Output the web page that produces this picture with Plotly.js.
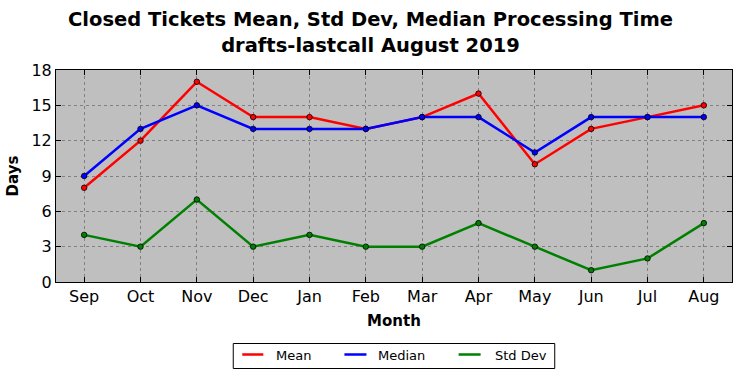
<!DOCTYPE html>
<html>
<head>
<meta charset="utf-8">
<script src="https://cdn.plot.ly/plotly-3.0.1.min.js"></script>
<style>html,body{margin:0;padding:0;background:#fff;}#chart{width:741px;height:378px;}</style>
</head>
<body>
<div id="chart"></div>
<script>
const months = ["Sep","Oct","Nov","Dec","Jan","Feb","Mar","Apr","May","Jun","Jul","Aug"];
const meanVals = [8,12,17,14,14,13,14,16,10,13,14,15];
const medianVals = [9,13,15,13,13,13,14,14,11,14,14,14];
const stdVals = [4,3,7,3,4,3,3,5,3,1,2,5];
const yTicks = [0,3,6,9,12,15,18];
const seriesNames = ["Mean","Median","Std Dev"];
const seriesColors = ["#ff0000","#0000ff","#008000"];

function series(name, vals, color){
  return {
    x: months.map((m,i)=>i), y: vals, name: name, type: "scatter", mode: "lines+markers",
    showlegend: false,
    line: {color: color, width: 2.5},
    marker: {color: color, size: 5.5, line: {color: "#000", width: 0.8}}
  };
}
const data = [series(seriesNames[0], meanVals, seriesColors[0]), series(seriesNames[1], medianVals, seriesColors[1]), series(seriesNames[2], stdVals, seriesColors[2])];

// custom legend (matplotlib-like)
const W = 675, H = 212, L = 56, T = 70;
const px = v => (v - L) / W;
const py = v => (T + H - v) / H;
const legLine = [[242,263,276],[344,366,378],[458,480,494]];
const shapes = [{type:"rect", xref:"paper", yref:"paper", x0:px(233), x1:px(554), y0:py(343.5), y1:py(368.5), line:{color:"#000", width:1}, fillcolor:"#fff"}];
const annotations = [];
legLine.forEach((p,i)=>{
  shapes.push({type:"line", xref:"paper", yref:"paper", x0:px(p[0]), x1:px(p[1]), y0:py(354.5), y1:py(354.5), line:{color:seriesColors[i], width:2.5}});
  annotations.push({xref:"paper", yref:"paper", x:px(p[2]-2), y:py(355), xanchor:"left", yanchor:"middle", text:seriesNames[i], showarrow:false, font:{size:13, color:"#000"}});
});

const font = "DejaVu Sans, sans-serif";
const layout = {
  width: 741, height: 378,
  margin: {l: 56, r: 9, t: 70, b: 96},
  paper_bgcolor: "#ffffff", plot_bgcolor: "#bfbfbf",
  font: {family: font, color: "#000"},
  title: {text: "<b>Closed Tickets Mean, Std Dev, Median Processing Time<br>drafts-lastcall August 2019</b>", font: {size: 19.5, family: font}, x: 0.5, xanchor: "center", yref: "container", y: 0.93, yanchor: "middle"},
  xaxis: {
    range: [-0.5, 11.5], tickvals: months.map((m,i)=>i), ticktext: months,
    ticks: "inside", ticklen: 5, tickcolor: "#000", mirror: "allticks", showline: true, linecolor: "#000", linewidth: 1,
    showgrid: true, gridcolor: "#808080", griddash: "dot", gridwidth: 1, zeroline: false,
    tickfont: {size: 16}, title: {text: "<b>Month</b>", font: {size: 15}, standoff: 10}
  },
  yaxis: {
    range: [0, 18], tickvals: yTicks, ticktext: yTicks.map(String),
    ticks: "inside", ticklen: 5, tickcolor: "#000", mirror: "allticks", showline: true, linecolor: "#000", linewidth: 1,
    showgrid: true, gridcolor: "#808080", griddash: "dot", gridwidth: 1, zeroline: false,
    tickfont: {size: 16}, title: {text: "<b>Days</b>", font: {size: 15}, standoff: 9}
  },
  showlegend: false,
  shapes: shapes,
  annotations: annotations
};
Plotly.newPlot("chart", data, layout, {staticPlot: true});
</script>
</body>
</html>
